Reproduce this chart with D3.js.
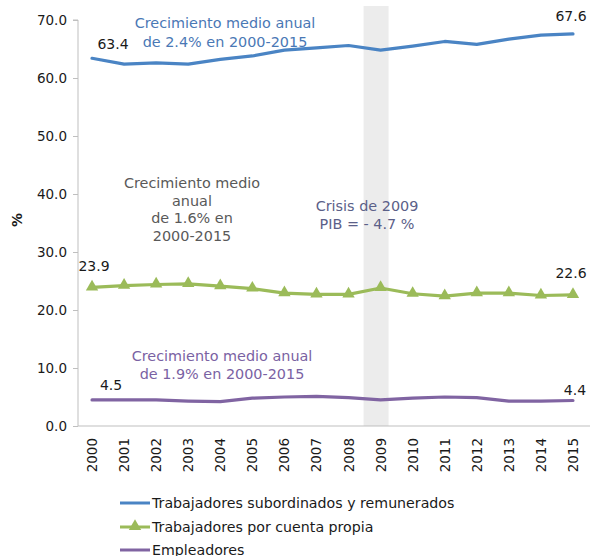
<!DOCTYPE html>
<html>
<head>
<meta charset="utf-8">
<script src="https://cdn.jsdelivr.net/npm/d3@7"></script>
<style>
  body { margin: 0; background: #fff; }
  text { font-family: "DejaVu Sans", Verdana, sans-serif; }
</style>
</head>
<body>
<svg id="chart" width="592" height="556"></svg>
<script>
// Población ocupada por posición en el trabajo, % del total
const years = ["2000","2001","2002","2003","2004","2005","2006","2007","2008","2009","2010","2011","2012","2013","2014","2015"];
const subordinados = [63.4, 62.4, 62.6, 62.4, 63.2, 63.8, 64.8, 65.2, 65.6, 64.8, 65.5, 66.3, 65.8, 66.7, 67.4, 67.6];
const cuentaPropia = [23.9, 24.2, 24.4, 24.5, 24.1, 23.7, 22.9, 22.7, 22.7, 23.8, 22.8, 22.4, 22.9, 22.9, 22.5, 22.6];
const empleadores  = [4.5, 4.5, 4.5, 4.3, 4.2, 4.8, 5.0, 5.1, 4.9, 4.5, 4.8, 5.0, 4.9, 4.3, 4.3, 4.4];
const yTicks = [0, 10, 20, 30, 40, 50, 60, 70];
const seriesNames = ["Trabajadores subordinados y remunerados", "Trabajadores por cuenta propia", "Empleadores"];
const crisisYear = "2009";

const colors = ["#4a84c4", "#9bbb59", "#8064a2"];

const svg = d3.select("#chart");
const margin = { left: 76, right: 3 };
const W = 592;

const x = d3.scaleBand().domain(years).range([margin.left, W - margin.right]);
const y = d3.scaleLinear().domain([0, 70]).range([426, 20]);
const cx = d => x(d) + x.bandwidth() / 2;

// Banda sombreada de la crisis de 2009
svg.append("rect")
  .attr("x", cx(crisisYear) - 17)
  .attr("y", 6)
  .attr("width", 25)
  .attr("height", y(0) - 6)
  .attr("fill", "#ececec");

// Eje Y
const yAxis = svg.append("g")
  .attr("transform", `translate(${margin.left + 2},0)`)
  .call(d3.axisLeft(y).tickValues(yTicks).tickFormat(d3.format(".1f")).tickSize(5).tickPadding(6));
yAxis.select(".domain").attr("stroke", "#bfbfbf").attr("d", `M-5,${y(70)}H0V${y(0)}`);
yAxis.selectAll(".tick line").attr("stroke", "#bfbfbf");
yAxis.selectAll(".tick text").attr("font-size", 13.5).attr("fill", "#1a1a1a")
  .attr("font-family", "DejaVu Sans, Verdana, sans-serif");

// Eje X
svg.append("line")
  .attr("x1", margin.left + 2).attr("x2", W - 2)
  .attr("y1", y(0)).attr("y2", y(0))
  .attr("stroke", "#bfbfbf");
svg.append("g").selectAll("text").data(years).join("text")
  .attr("transform", d => `translate(${cx(d) + 5},438) rotate(-90)`)
  .attr("text-anchor", "end")
  .attr("font-size", 13.5)
  .attr("fill", "#1a1a1a")
  .text(d => d);

// Título del eje Y
svg.append("text")
  .attr("transform", "translate(22,220) rotate(-90)")
  .attr("text-anchor", "middle")
  .attr("font-size", 14)
  .attr("font-weight", "bold")
  .attr("fill", "#1a1a1a")
  .text("%");

// Líneas
const allSeries = [subordinados, cuentaPropia, empleadores];
const line = d3.line().x((d, i) => cx(years[i])).y(d => y(d));
allSeries.forEach((s, k) => {
  svg.append("path")
    .datum(s)
    .attr("d", line)
    .attr("fill", "none")
    .attr("stroke", colors[k])
    .attr("stroke-width", 3.2)
    .attr("stroke-linejoin", "round")
    .attr("stroke-linecap", "round");
});

// Marcadores triangulares de cuenta propia
const tri = d3.symbol().type(d3.symbolTriangle).size(66);
svg.append("g").selectAll("path").data(cuentaPropia).join("path")
  .attr("transform", (d, i) => `translate(${cx(years[i])},${y(d) - 0.5})`)
  .attr("d", tri)
  .attr("fill", colors[1]);

// Etiquetas de valores inicial y final
const endLabels = [
  { v: subordinados[0], i: 0, dx: 21, dy: -14 },
  { v: subordinados[15], i: 15, dx: -2, dy: -18 },
  { v: cuentaPropia[0], i: 0, dx: 2, dy: -21 },
  { v: cuentaPropia[15], i: 15, dx: -2, dy: -22 },
  { v: empleadores[0], i: 0, dx: 19, dy: -15 },
  { v: empleadores[15], i: 15, dx: 2, dy: -10 }
];
svg.append("g").selectAll("text").data(endLabels).join("text")
  .attr("x", d => cx(years[d.i]) + d.dx)
  .attr("y", d => y(d.v) + d.dy)
  .attr("text-anchor", "middle")
  .attr("dominant-baseline", "central")
  .attr("font-size", 14)
  .attr("fill", "#1a1a1a")
  .text(d => d.v.toFixed(1));

// Anotaciones
function note(lines, xc, y0, lh, color) {
  const t = svg.append("text")
    .attr("text-anchor", "middle")
    .attr("font-size", 14.4)
    .attr("fill", color);
  lines.forEach((s, i) => {
    t.append("tspan").attr("x", xc).attr("y", y0 + i * lh)
      .attr("dominant-baseline", "central").text(s);
  });
}
note(["Crecimiento medio anual", "de 2.4% en 2000-2015"], 225, 23, 18.5, "#4a78b5");
note(["Crecimiento medio", "anual", "de 1.6% en", "2000-2015"], 192, 183, 17.7, "#595959");
note(["Crisis de 2009", "PIB = - 4.7 %"], 367, 206, 17.5, "#5b6088");
note(["Crecimiento medio anual", "de 1.9% en 2000-2015"], 222, 356, 18, "#7a62a3");

// Leyenda
const legend = svg.append("g");
seriesNames.forEach((name, k) => {
  const ly = [503, 527, 550][k];
  legend.append("line")
    .attr("x1", 120).attr("x2", 150)
    .attr("y1", ly).attr("y2", ly)
    .attr("stroke", colors[k]).attr("stroke-width", 3);
  if (k === 1) {
    legend.append("path")
      .attr("transform", `translate(135,${ly - 0.5})`)
      .attr("d", tri).attr("fill", colors[1]);
  }
  legend.append("text")
    .attr("x", 152).attr("y", ly)
    .attr("dominant-baseline", "central")
    .attr("font-size", 14.2)
    .attr("fill", "#1a1a1a")
    .text(name);
});
</script>
</body>
</html>
